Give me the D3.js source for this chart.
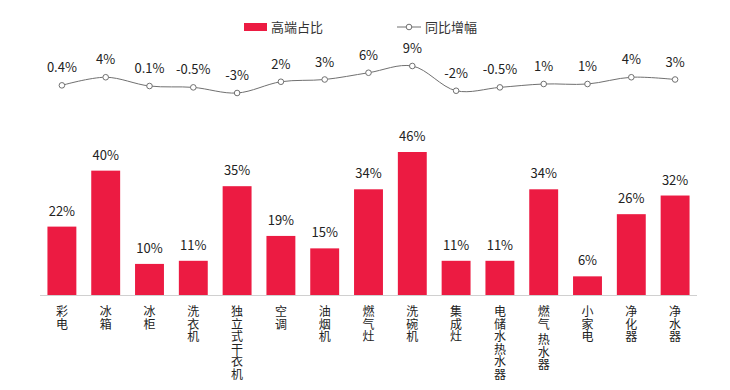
<!DOCTYPE html>
<html><head><meta charset="utf-8">
<script src="https://cdn.jsdelivr.net/npm/d3@7"></script>
<style>body{margin:0;background:#fff}svg{display:block}</style>
</head><body><svg id="c" width="730" height="390"></svg>
<script>
const categories = ["彩电","冰箱","冰柜","洗衣机","独立式干衣机","空调","油烟机","燃气灶","洗碗机","集成灶","电储水热水器","燃气 热水器","小家电","净化器","净水器"];
const shareValues = [22,40,10,11,35,19,15,34,46,11,11,34,6,26,32];
const growthValues = [0.4,4,0.1,-0.5,-3,2,3,6,9,-2,-0.5,1,1,4,3];
const shareLabels = shareValues.map(v=>v+"%");
const growthLabels = ["0.4%","4%","0.1%","-0.5%","-3%","2%","3%","6%","9%","-2%","-0.5%","1%","1%","4%","3%"];
const legendNames = ["高端占比","同比增幅"];

const RED = "#EC1B42", GRAY="#707070", FONT="'Noto Sans CJK SC','Noto Sans',sans-serif";
const svg = d3.select("#c");
const x = d3.scaleBand().domain(categories).range([40,697]).paddingInner(0.34).paddingOuter(0.17);
const y = d3.scaleLinear().domain([0,46]).range([295,152]);
const y2 = d3.scaleLinear().domain([-3,9]).range([93,66]);

// bars
svg.append("g").selectAll("rect").data(categories).join("rect")
  .attr("x",d=>x(d)).attr("width",x.bandwidth())
  .attr("y",(d,i)=>y(shareValues[i])).attr("height",(d,i)=>y(0)-y(shareValues[i]))
  .attr("fill",RED);
svg.append("g").selectAll("text").data(categories).join("text")
  .attr("x",d=>x(d)+x.bandwidth()/2).attr("y",(d,i)=>y(shareValues[i])-11)
  .attr("text-anchor","middle").attr("font-family",FONT).attr("font-size",13).attr("fill","#222")
  .text((d,i)=>shareLabels[i]);

// axis
const ax = svg.append("g").attr("transform","translate(0,295.5)").call(d3.axisBottom(x).tickSize(0).tickFormat(""));
ax.select(".domain").attr("stroke","#d0d0d0").attr("d","M40,0H697");
// vertical labels
const lab = svg.append("g").attr("font-family",FONT).attr("font-size",12).attr("fill","#222");
categories.forEach(c=>{
  let yy = 316;
  const g = lab.append("g");
  for (const ch of c) {
    if (ch===" ") { yy += 3; continue; }
    g.append("text").attr("x",x(c)+x.bandwidth()/2).attr("y",yy).attr("text-anchor","middle").text(ch);
    yy += 12.6;
  }
});

// line
const pts = categories.map((c,i)=>[x(c)+x.bandwidth()/2, y2(growthValues[i])]);
svg.append("path").attr("d",d3.line().curve(d3.curveCatmullRom.alpha(0.5))(pts))
  .attr("fill","none").attr("stroke",GRAY).attr("stroke-width",1);
svg.append("g").selectAll("circle").data(pts).join("circle")
  .attr("cx",d=>d[0]).attr("cy",d=>d[1]).attr("r",2.8)
  .attr("fill","#fff").attr("stroke",GRAY).attr("stroke-width",1);
svg.append("g").selectAll("text").data(pts).join("text")
  .attr("x",d=>d[0]).attr("y",d=>d[1]-13)
  .attr("text-anchor","middle").attr("font-family",FONT).attr("font-size",13).attr("fill","#222")
  .text((d,i)=>growthLabels[i]);

// legend
const lg = svg.append("g").attr("font-family",FONT).attr("font-size",13).attr("fill","#333");
lg.append("rect").attr("x",244).attr("y",23).attr("width",23).attr("height",8).attr("fill",RED);
lg.append("text").attr("x",271).attr("y",32).text(legendNames[0]);
lg.append("line").attr("x1",397).attr("x2",421).attr("y1",27).attr("y2",27).attr("stroke",GRAY);
lg.append("circle").attr("cx",409).attr("cy",27).attr("r",2.8).attr("fill","#fff").attr("stroke",GRAY);
lg.append("text").attr("x",425).attr("y",32).text(legendNames[1]);
</script></body></html>
